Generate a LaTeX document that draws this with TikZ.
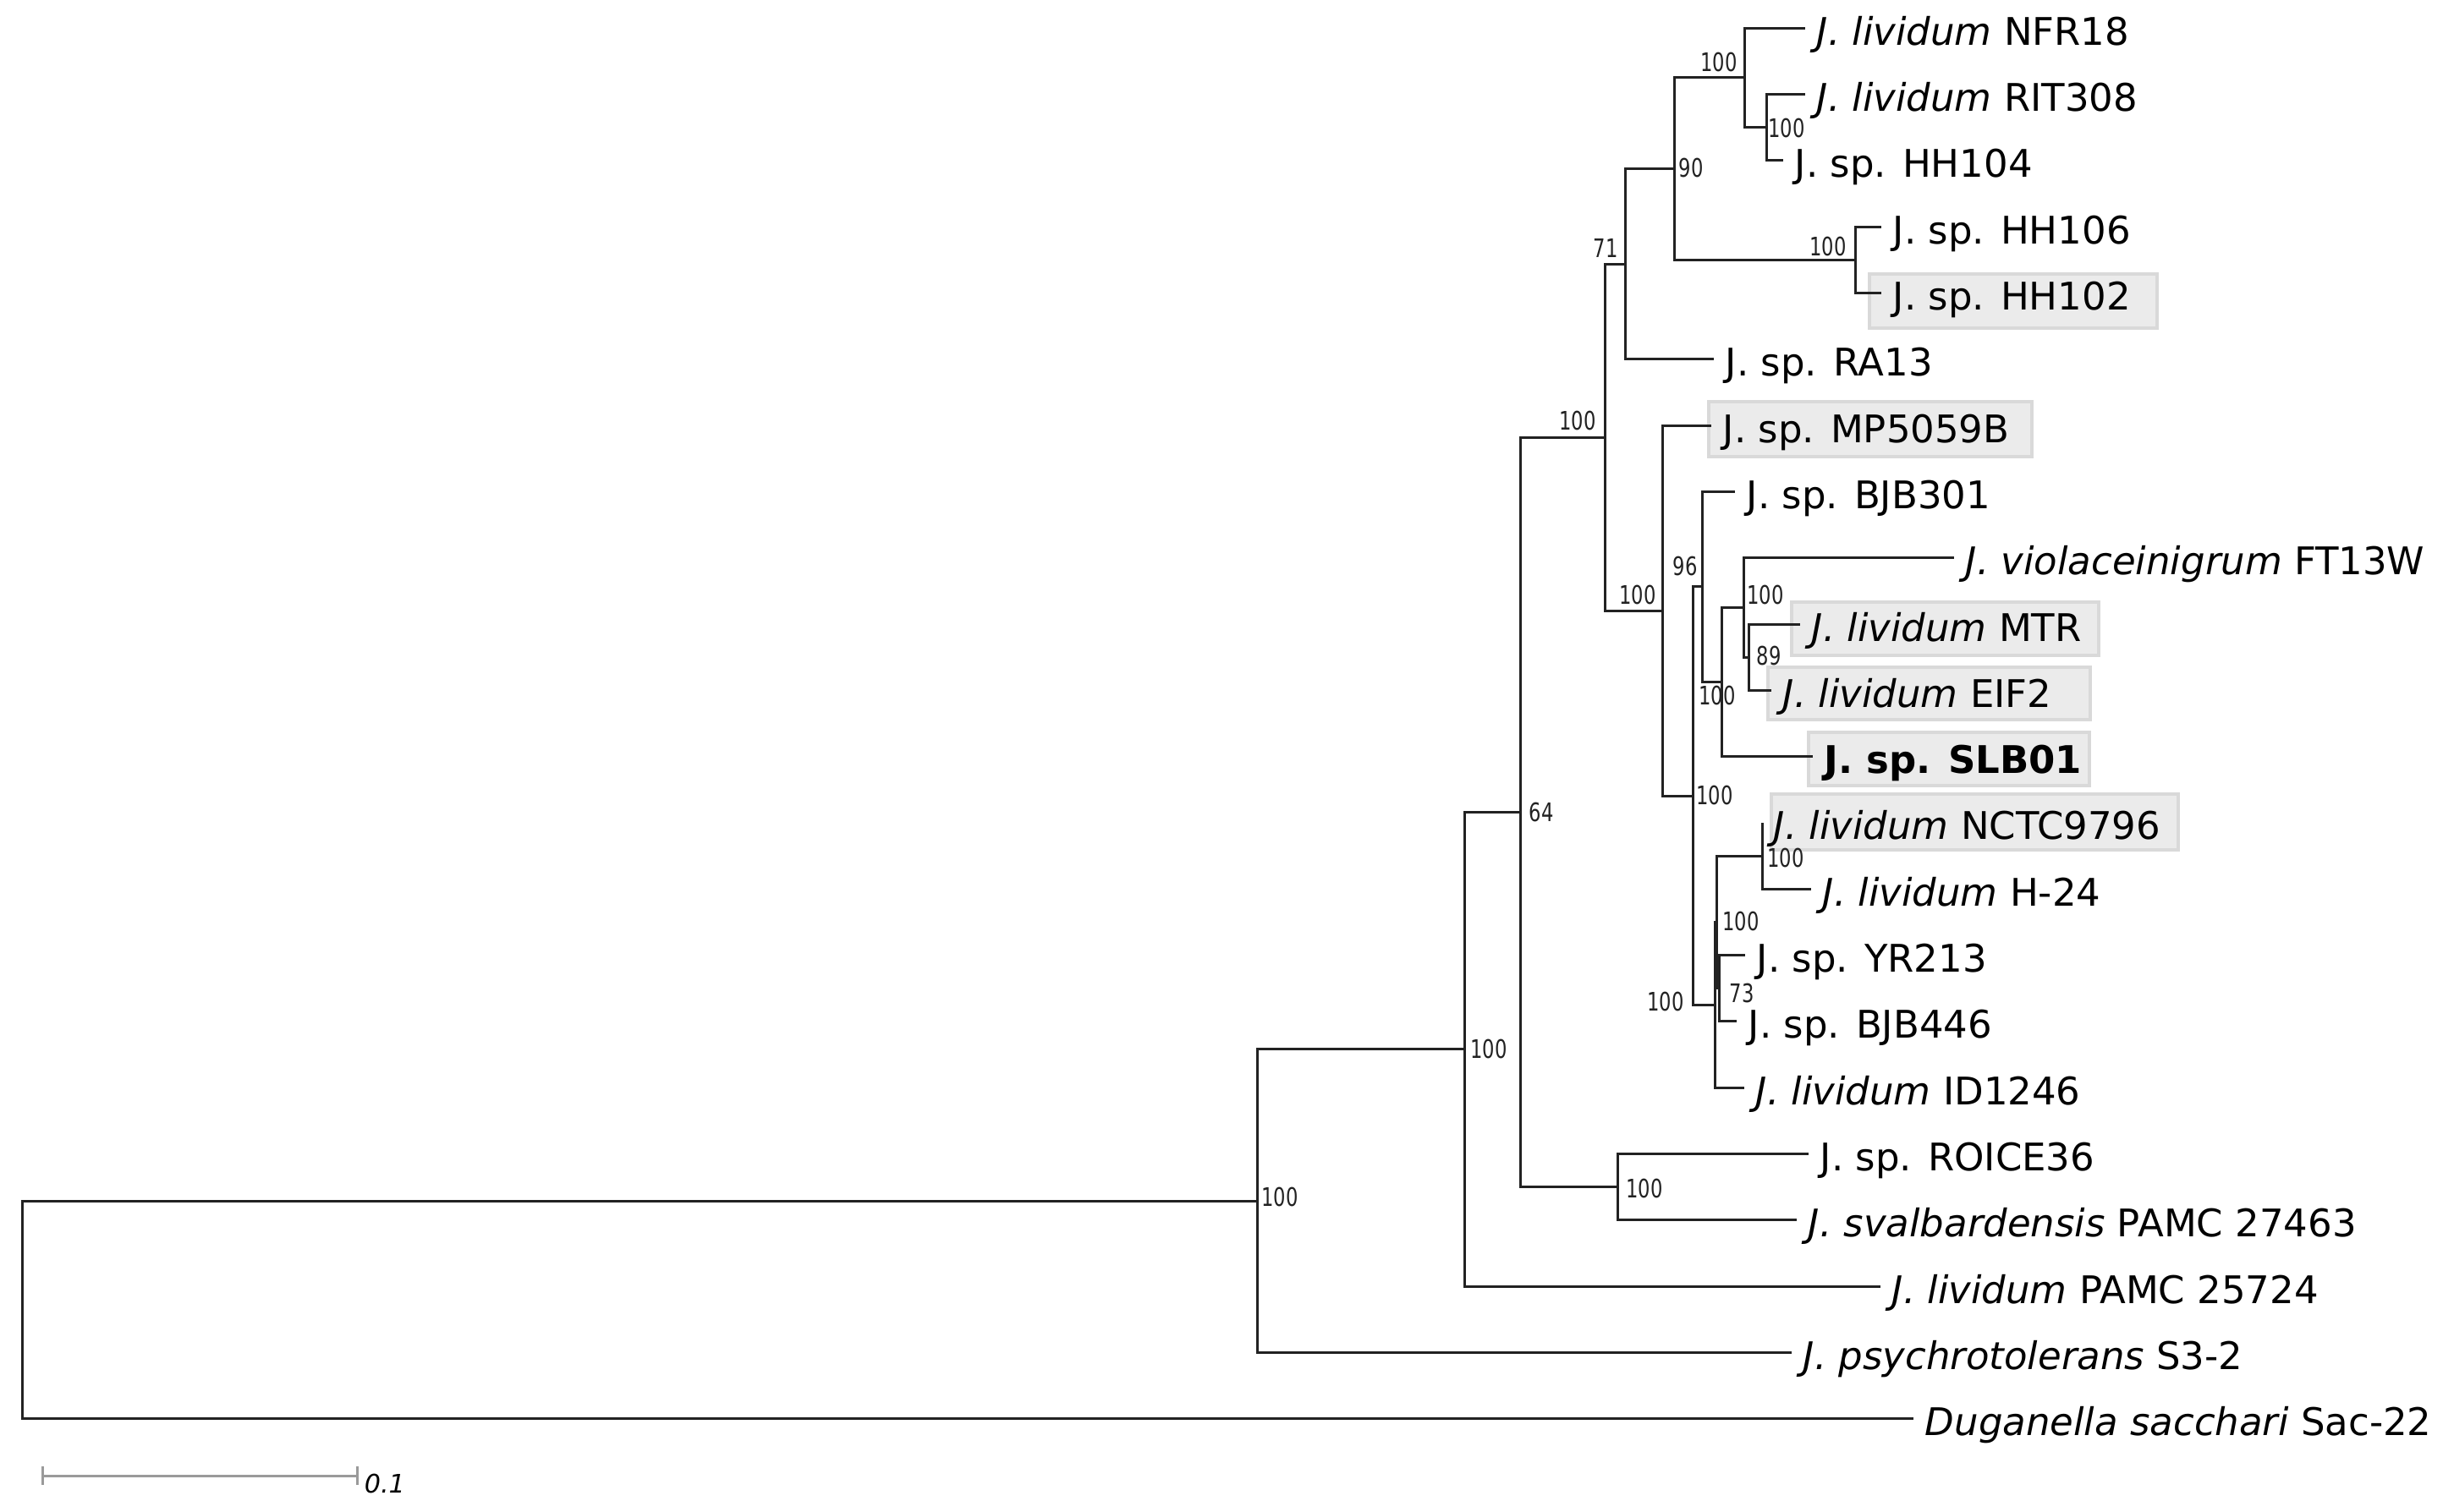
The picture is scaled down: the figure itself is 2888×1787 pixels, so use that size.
\documentclass[tikz,border=0pt]{standalone}
\usepackage{fontspec}
\setmainfont{DejaVu Sans}
\newfontfamily\bsfont[FakeStretch=0.75]{DejaVu Sans}
\definecolor{branch}{HTML}{222222}
\definecolor{hlfill}{HTML}{EBEBEB}
\definecolor{hlline}{HTML}{D9D9D9}
\definecolor{barcol}{HTML}{9A9A9A}
\begin{document}
\begin{tikzpicture}[x=0.25pt,y=-0.25pt,
  br/.style={draw=branch,line width=0.75pt},
  leaf/.style={anchor=base west,inner sep=0pt,xshift=3.25pt,yshift=-5pt,
    font=\fontsize{11.25pt}{13pt}\selectfont,text=black},
  bs/.style={anchor=center,inner sep=0pt,font=\bsfont\fontsize{7.55pt}{9pt}\selectfont,text=branch},
  hlbox/.style={draw=hlline,fill=hlfill,line width=1pt},
  sbar/.style={draw=barcol,line width=0.75pt}]
\useasboundingbox (0,0) rectangle (2888,1787);

% highlight boxes
\draw[hlbox] (2210,324) rectangle (2550,388);
\draw[hlbox] (2020,475) rectangle (2402,540);
\draw[hlbox] (2118,712) rectangle (2481,775);
\draw[hlbox] (2090,789) rectangle (2471,851);
\draw[hlbox] (2138,866) rectangle (2470,929);
\draw[hlbox] (2094,939) rectangle (2575,1005);

% leaf ends
\coordinate (l0) at (2134,33.3);
\coordinate (l1) at (2134,111.6);
\coordinate (l2) at (2108,189.9);
\coordinate (l3) at (2224,268.2);
\coordinate (l4) at (2224,346.5);
\coordinate (l5) at (2026,424.8);
\coordinate (l6) at (2023,503.1);
\coordinate (l7) at (2051,581.4);
\coordinate (l8) at (2310,659.7);
\coordinate (l9) at (2128,738);
\coordinate (l10) at (2094,816.3);
\coordinate (l11) at (2143,894.6);
\coordinate (l12) at (2083,972.9);
\coordinate (l13) at (2141,1051.2);
\coordinate (l14) at (2063,1129.5);
\coordinate (l15) at (2053,1207.8);
\coordinate (l16) at (2062,1286.1);
\coordinate (l17) at (2138,1364.4);
\coordinate (l18) at (2124,1442.7);
\coordinate (l19) at (2223,1521);
\coordinate (l20) at (2118,1599.3);
\coordinate (l21) at (2262,1677.6);

% internal nodes
\coordinate (nRIT) at (2088,150.75);
\coordinate (nNFR) at (2062,92.0);
\coordinate (nHH) at (2193,307.35);
\coordinate (n90) at (1979,199.7);
\coordinate (n71) at (1921,312.25);
\coordinate (nF) at (2067,777.15);
\coordinate (nE) at (2061,718.4);
\coordinate (nD) at (2035,806.5);
\coordinate (n96) at (2012,693.95);
\coordinate (nG) at (2083,1012.05);
\coordinate (nH) at (2032,1168.65);
\coordinate (nK) at (2029,1090.35);
\coordinate (nL) at (2027,1188.2);
\coordinate (nB) at (2001,941.1);
\coordinate (nA) at (1965,722.1);
\coordinate (N4) at (1897,517.2);
\coordinate (N5) at (1912,1403.55);
\coordinate (N3) at (1797,960.4);
\coordinate (N2) at (1731,1240.7);
\coordinate (N1) at (1486,1420);
\coordinate (R) at (26,1548.8);

% branches
\draw[br] (R) |- (N1);  \draw[br] (R) |- (l21);
\draw[br] (N1) |- (N2); \draw[br] (N1) |- (l20);
\draw[br] (N2) |- (N3); \draw[br] (N2) |- (l19);
\draw[br] (N3) |- (N4); \draw[br] (N3) |- (N5);
\draw[br] (N5) |- (l17); \draw[br] (N5) |- (l18);
\draw[br] (N4) |- (n71); \draw[br] (N4) |- (nA);
\draw[br] (n71) |- (n90); \draw[br] (n71) |- (l5);
\draw[br] (n90) |- (nNFR); \draw[br] (n90) |- (nHH);
\draw[br] (nNFR) |- (l0); \draw[br] (nNFR) |- (nRIT);
\draw[br] (nRIT) |- (l1); \draw[br] (nRIT) |- (l2);
\draw[br] (nHH) |- (l3); \draw[br] (nHH) |- (l4);
\draw[br] (nA) |- (l6); \draw[br] (nA) |- (nB);
\draw[br] (nB) |- (n96); \draw[br] (nB) |- (nL);
\draw[br] (n96) |- (l7); \draw[br] (n96) |- (nD);
\draw[br] (nD) |- (nE); \draw[br] (nD) |- (l11);
\draw[br] (nE) |- (l8); \draw[br] (nE) |- (nF);
\draw[br] (nF) |- (l9); \draw[br] (nF) |- (l10);
\draw[br] (nL) |- (nK); \draw[br] (nL) |- (l16);
\draw[br] (nK) |- (nG); \draw[br] (nK) |- (nH);
\draw[br] (nG) |- (l12); \draw[br] (nG) |- (l13);
\draw[br] (nH) |- (l14); \draw[br] (nH) |- (l15);

% leaf labels
\node[leaf] (t0) at (l0) {\textit{J. lividum} NFR18};
\node[leaf] (t1) at (l1) {\textit{J. lividum} RIT308};
\node[leaf] (t2) at (l2) {J. sp. HH104};
\node[leaf] (t3) at (l3) {J. sp. HH106};
\node[leaf] (t4) at (l4) {J. sp. HH102};
\node[leaf] (t5) at (l5) {J. sp. RA13};
\node[leaf] (t6) at (l6) {J. sp. MP5059B};
\node[leaf] (t7) at (l7) {J. sp. BJB301};
\node[leaf] (t8) at (l8) {\textit{J. violaceinigrum} FT13W};
\node[leaf] (t9) at (l9) {\textit{J. lividum} MTR};
\node[leaf] (t10) at (l10) {\textit{J. lividum} EIF2};
\node[leaf] (t11) at (l11) {\textbf{J. sp. SLB01}};
\node[leaf] (t12) at (l12) {\textit{J. lividum} NCTC9796};
\node[leaf] (t13) at (l13) {\textit{J. lividum} H-24};
\node[leaf] (t14) at (l14) {J. sp. YR213};
\node[leaf] (t15) at (l15) {J. sp. BJB446};
\node[leaf] (t16) at (l16) {\textit{J. lividum} ID1246};
\node[leaf] (t17) at (l17) {J. sp. ROICE36};
\node[leaf] (t18) at (l18) {\textit{J. svalbardensis} PAMC 27463};
\node[leaf] (t19) at (l19) {\textit{J. lividum} PAMC 25724};
\node[leaf] (t20) at (l20) {\textit{J. psychrotolerans} S3-2};
\node[leaf] (t21) at (l21) {\textit{Duganella sacchari} Sac-22};

% bootstrap values
\node[bs] (b1) at (2032,74) {100};
\node[bs] (b2) at (2112,152) {100};
\node[bs] (b3) at (1999,199) {90};
\node[bs] (b4) at (2161,292) {100};
\node[bs] (b5) at (1898,293) {71};
\node[bs] (b6) at (1865,498) {100};
\node[bs] (b7) at (1936,703) {100};
\node[bs] (b8) at (1992,670) {96};
\node[bs] (b9) at (2087,703) {100};
\node[bs] (b10) at (2091,775) {89};
\node[bs] (b11) at (2030,822) {100};
\node[bs] (b12) at (2027,940) {100};
\node[bs] (b13) at (1822,960) {64};
\node[bs] (b14) at (2111,1014) {100};
\node[bs] (b15) at (2058,1089) {100};
\node[bs] (b16) at (2059,1174) {73};
\node[bs] (b17) at (1969,1184) {100};
\node[bs] (b18) at (1760,1240) {100};
\node[bs] (b19) at (1944,1405) {100};
\node[bs] (b20) at (1513,1415) {100};

% scale bar
\coordinate (sb1) at (50,1745);
\coordinate (sb2) at (422,1745);
\draw[sbar] (sb1) -- (sb2);
\draw[sbar] ([yshift=2.75pt]sb1) -- ([yshift=-2.75pt]sb1);
\draw[sbar] ([yshift=2.75pt]sb2) -- ([yshift=-2.75pt]sb2);
\node[anchor=base west,inner sep=0pt,font=\fontsize{7.55pt}{9pt}\selectfont\itshape] (sbl) at (430,1765) {0.1};
\end{tikzpicture}
\end{document}
